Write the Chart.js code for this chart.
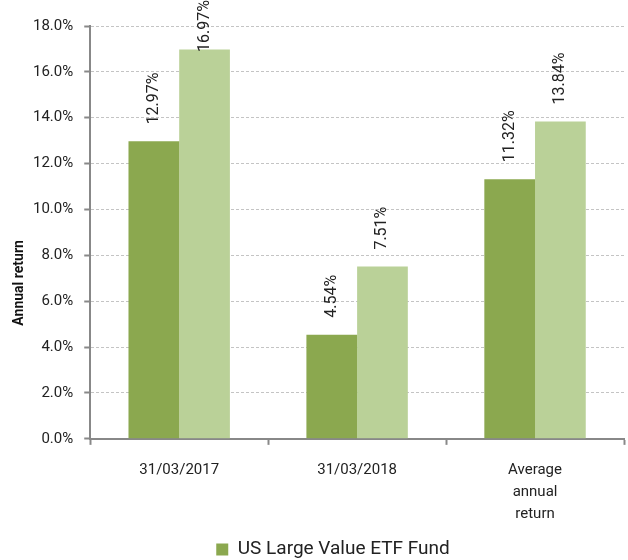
<!DOCTYPE html>
<html>
<head>
<meta charset="utf-8">
<script src="https://cdn.jsdelivr.net/npm/chart.js@4/dist/chart.umd.min.js"></script>
<style>
  body { margin: 0; background: #fff; }
  #wrap { width: 628px; height: 560px; }
</style>
</head>
<body>
<div id="wrap"><canvas id="mainGraph"></canvas></div>
<script>
var categories = ['31/03/2017', '31/03/2018', ['Average', 'annual', 'return']];
var fundValues = [12.97, 4.54, 11.32];
var benchValues = [16.97, 7.51, 13.84];
var yTicks = [0, 2, 4, 6, 8, 10, 12, 14, 16, 18];
var yTitle = 'Annual return';

Chart.defaults.font.family = 'Roboto';
Chart.defaults.color = '#222';

// rotated value labels above each bar (kept inside the canvas at the top)
var barLabels = {
    id: 'barLabels',
    afterLayout: function (chart) {
        // legend sits a little right of centre in the original
        chart.legend.left += 10;
        chart.legend.right += 10;
    },
    afterDatasetsDraw: function (chart) {
        var ctx = chart.ctx;
        ctx.save();
        ctx.font = '16px Roboto';
        ctx.fillStyle = '#222';
        ctx.textAlign = 'left';
        ctx.textBaseline = 'middle';
        chart.data.datasets.forEach(function (ds, i) {
            var meta = chart.getDatasetMeta(i);
            meta.data.forEach(function (bar, j) {
                var txt = ds.data[j].toFixed(2) + '%';
                var w = ctx.measureText(txt).width;
                var bottom = bar.y - 17;
                if (bottom - w < 0) bottom = w;
                ctx.save();
                ctx.translate(bar.x, bottom);
                ctx.rotate(-Math.PI / 2);
                ctx.fillText(txt, 0, 0);
                ctx.restore();
            });
        });
        // y axis title, sitting lower than centre like the original
        ctx.save();
        ctx.font = 'bold 14px Roboto';
        ctx.fillStyle = '#111';
        ctx.textAlign = 'center';
        ctx.textBaseline = 'middle';
        ctx.translate(19, chart.scales.y.getPixelForValue(6.8));
        ctx.rotate(-Math.PI / 2);
        ctx.fillText(yTitle, 0, 0);
        ctx.restore();
        ctx.restore();
    }
};

var ctx = document.getElementById('mainGraph').getContext('2d');
var chart = new Chart(ctx, {
    type: 'bar',
    data: {
        labels: categories,
        datasets: [
            {
                label: 'US Large Value ETF Fund',
                data: fundValues,
                backgroundColor: '#8ba84f'
            },
            {
                label: 'Benchmark',
                data: benchValues,
                backgroundColor: '#bad198'
            }
        ]
    },
    plugins: [barLabels],
    options: {
        responsive: true,
        maintainAspectRatio: false,
        animation: false,
        layout: { padding: { top: 26, right: 4, left: 22, bottom: -9 } },
        datasets: {
            bar: { categoryPercentage: 0.57, barPercentage: 1.0 }
        },
        plugins: {
            tooltip: { enabled: false },
            legend: {
                position: 'bottom',
                labels: {
                    filter: function (item) { return item.datasetIndex === 0; },
                    boxWidth: 12,
                    boxHeight: 12,
                    padding: 1,
                    font: { size: 19, lineHeight: 1 },
                    color: '#222'
                }
            }
        },
        scales: {
            x: {
                grid: {
                    display: true,
                    drawOnChartArea: false,
                    offset: true,
                    tickLength: 6,
                    tickColor: '#888',
                    tickWidth: 2
                },
                border: { color: '#888', width: 2 },
                ticks: {
                    font: { size: 15, lineHeight: 1.47 },
                    color: '#222',
                    padding: 14,
                    maxRotation: 0
                }
            },
            y: {
                min: 0,
                max: 18,
                afterBuildTicks: function (axis) {
                    axis.ticks = yTicks.map(function (v) { return { value: v }; });
                },
                grid: {
                    color: '#c4c4c4',
                    lineWidth: 1,
                    tickLength: 6,
                    tickColor: '#888',
                    tickWidth: 2,
                    tickBorderDash: []
                },
                border: { color: '#888', width: 2, dash: [3, 2] },
                ticks: {
                    font: { size: 15 },
                    color: '#222',
                    padding: 11,
                    callback: function (v) { return v.toFixed(1) + '%'; }
                }
            }
        }
    }
});
</script>
</body>
</html>
